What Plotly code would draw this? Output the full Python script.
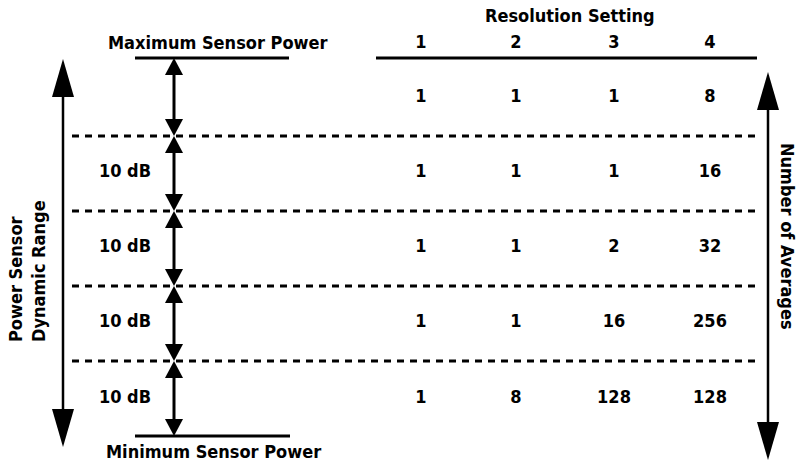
import plotly.graph_objects as go

# ---- data ----
resolution_settings = ["1", "2", "3", "4"]
avg_res1 = [1, 1, 1, 1, 1]
avg_res2 = [1, 1, 1, 1, 8]
avg_res3 = [1, 1, 2, 16, 128]
avg_res4 = [8, 16, 32, 256, 128]
range_labels = ["", "10 dB", "10 dB", "10 dB", "10 dB"]

# ---- layout constants (pixel space of the browser window) ----
W, H = 800, 466
FONT = "DejaVu Sans Condensed, Liberation Sans Narrow, Arial Narrow, sans-serif"
FS = 18
col_x = [421, 516, 614, 710]
row_y = [97, 172, 247, 322, 398]
level_y = [58, 136, 211, 286, 361, 436]
arrow_x = 174

fig = go.Figure()
shapes = []

def tri(x, ytip, w, h, up=True):
    yb = ytip + h if up else ytip - h
    return dict(type="path", path=f"M {x},{ytip} L {x-w/2},{yb} L {x+w/2},{yb} Z",
                fillcolor="black", line=dict(width=0), xref="x", yref="y")

def line(x0, y0, x1, y1, w=3, dash="solid"):
    return dict(type="line", x0=x0, y0=y0, x1=x1, y1=y1, xref="x", yref="y",
                line=dict(color="black", width=w, dash=dash))

# top / bottom solid lines
shapes.append(line(135, level_y[0], 289, level_y[0]))
shapes.append(line(135, level_y[-1], 290, level_y[-1]))
shapes.append(line(376, level_y[0], 757, level_y[0]))
# dashed separators
for y in level_y[1:-1]:
    shapes.append(line(72, y, 756, y, w=3, dash="7px,6px"))
# double arrows between levels
for i in range(len(level_y) - 1):
    y0, y1 = level_y[i], level_y[i + 1]
    shapes.append(line(arrow_x, y0 + 10, arrow_x, y1 - 10, w=3))
    shapes.append(tri(arrow_x, y0, 18, 17, up=True))
    shapes.append(tri(arrow_x, y1, 18, 17, up=False))
# left big arrow
shapes.append(line(63, 90, 63, 420, w=2.5))
shapes.append(tri(63, 59, 22, 38, up=True))
shapes.append(tri(63, 447, 22, 38, up=False))
# right big arrow
shapes.append(line(768, 100, 768, 430, w=2.5))
shapes.append(tri(768, 72, 22, 38, up=True))
shapes.append(tri(768, 460, 22, 38, up=False))

tfont = dict(family=FONT, size=FS, color="black", weight="bold")
# table values
for xc, vals in zip(col_x, [avg_res1, avg_res2, avg_res3, avg_res4]):
    fig.add_trace(go.Scatter(x=[xc] * len(vals), y=row_y, mode="text",
                             text=[str(v) for v in vals], textfont=tfont,
                             hoverinfo="skip", showlegend=False))
# column headers
fig.add_trace(go.Scatter(x=col_x, y=[43] * 4, mode="text", text=resolution_settings,
                         textfont=tfont, hoverinfo="skip", showlegend=False))
# range labels
fig.add_trace(go.Scatter(x=[125] * len(range_labels), y=row_y, mode="text", text=range_labels,
                         textfont=tfont, hoverinfo="skip", showlegend=False))

annotations = [
    dict(x=217, y=42, text="Maximum Sensor Power"),
    dict(x=213, y=451, text="Minimum Sensor Power"),
    dict(x=570, y=15, text="Resolution Setting"),
    dict(x=15, y=344, text="Power Sensor", textangle=-90, yanchor="bottom"),
    dict(x=38, y=344, text="Dynamic Range", textangle=-90, yanchor="bottom"),
    dict(x=788, y=236, text="Number of Averages", textangle=90),
]
for a in annotations:
    a.setdefault("yanchor", "middle")
    a.update(xref="x", yref="y", showarrow=False, font=tfont, xanchor="center")

fig.update_layout(
    width=W, height=H, margin=dict(l=0, r=0, t=0, b=0),
    paper_bgcolor="white", plot_bgcolor="white",
    xaxis=dict(range=[0, W], visible=False, fixedrange=True),
    yaxis=dict(range=[H, 0], visible=False, fixedrange=True),
    shapes=shapes, annotations=annotations, showlegend=False,
    hovermode=False,
)
fig.write_html(
    "out.html",
    config={"displayModeBar": False, "staticPlot": True},
    post_script="document.body.style.margin='0';document.body.style.overflow='hidden';",
)
